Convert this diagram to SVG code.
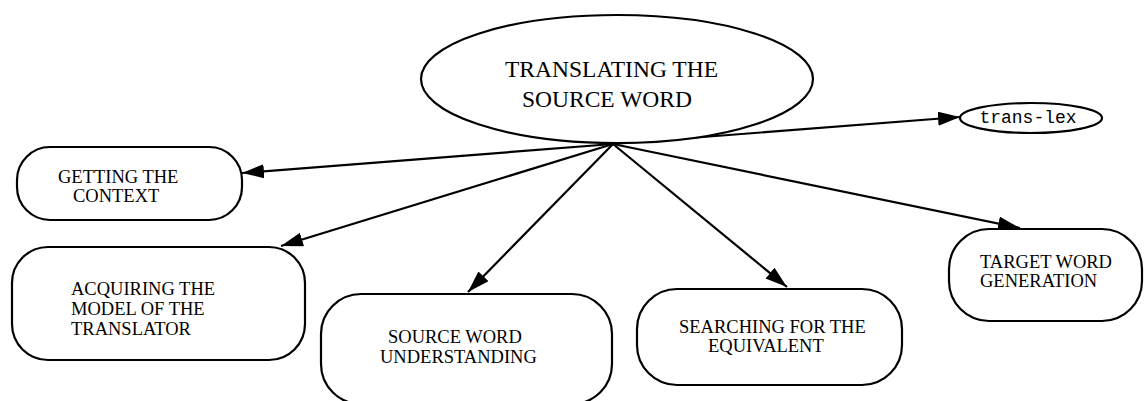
<svg xmlns="http://www.w3.org/2000/svg" width="1147" height="401" viewBox="0 0 1147 401">
<defs>
<style>
.shape{fill:#fff;stroke:#000;stroke-width:2.2}
.lbl{font-family:"Liberation Serif","Times New Roman",serif;font-size:18.5px;fill:#000}
.title{font-family:"Liberation Serif","Times New Roman",serif;font-size:23.5px;fill:#000}
.mono{font-family:"Liberation Mono","Courier New",monospace;font-size:18px;fill:#000}
.edge{stroke:#000;stroke-width:2.2;fill:none;marker-end:url(#arr)}
</style>
<marker id="arr" markerUnits="userSpaceOnUse" markerWidth="24" markerHeight="16" refX="22" refY="7" orient="auto">
<path d="M0,0 L22,7 L0,14 z" fill="#000"/>
</marker>
</defs>
<rect width="1147" height="401" fill="#fff"/>
<g id="connectors">
<line class="edge" x1="613" y1="144" x2="960" y2="117"/>
<line class="edge" x1="613" y1="144" x2="242" y2="173"/>
<line class="edge" x1="613" y1="144" x2="281" y2="246"/>
<line class="edge" x1="613" y1="144" x2="468" y2="292"/>
<line class="edge" x1="613" y1="144" x2="787" y2="287"/>
<line class="edge" x1="613" y1="144" x2="1020" y2="228"/>
</g>
<g id="translating">
<ellipse class="shape" cx="617" cy="79" rx="196" ry="64"/>
<text class="title" x="505" y="77">TRANSLATING THE</text>
<text class="title" x="522" y="107">SOURCE WORD</text>
</g>
<g id="trans-lex">
<ellipse class="shape" cx="1031" cy="118" rx="71" ry="15"/>
<text class="mono" x="1028" y="123" text-anchor="middle">trans-lex</text>
</g>
<g id="getting">
<rect class="shape" x="17" y="147" width="225" height="73" rx="33"/>
<text class="lbl" x="58" y="183">GETTING THE</text>
<text class="lbl" x="73" y="202">CONTEXT</text>
</g>
<g id="acquiring">
<rect class="shape" x="12" y="247" width="293" height="113" rx="36"/>
<text class="lbl" x="71" y="295">ACQUIRING THE</text>
<text class="lbl" x="71" y="315">MODEL OF THE</text>
<text class="lbl" x="71" y="335">TRANSLATOR</text>
</g>
<g id="source">
<rect class="shape" x="321" y="294" width="291" height="110" rx="40"/>
<text class="lbl" x="388" y="343">SOURCE WORD</text>
<text class="lbl" x="380" y="363">UNDERSTANDING</text>
</g>
<g id="searching">
<rect class="shape" x="637" y="289" width="265" height="96" rx="40"/>
<text class="lbl" x="679" y="333">SEARCHING FOR THE</text>
<text class="lbl" x="708" y="352">EQUIVALENT</text>
</g>
<g id="target">
<rect class="shape" x="949" y="229" width="193" height="92" rx="40"/>
<text class="lbl" x="980" y="268">TARGET WORD</text>
<text class="lbl" x="980" y="287">GENERATION</text>
</g>
</svg>
